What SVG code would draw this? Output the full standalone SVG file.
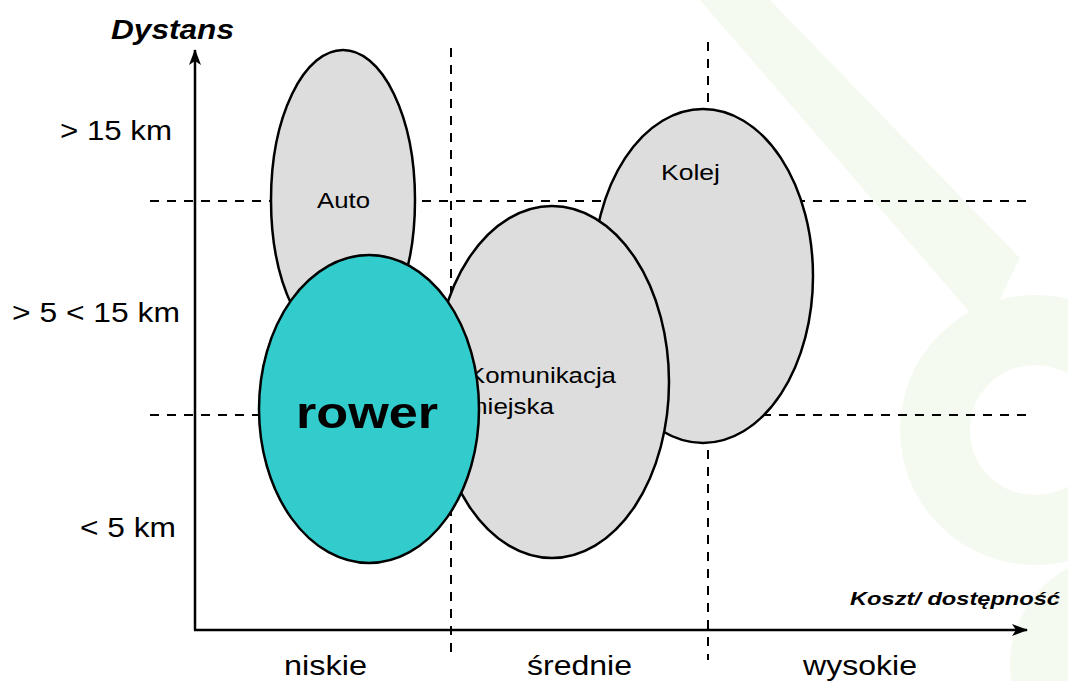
<svg xmlns="http://www.w3.org/2000/svg" width="1068" height="681" viewBox="0 0 1068 681">
<defs>
<marker id="arr" viewBox="0 0 16 12" refX="15" refY="6" markerWidth="16" markerHeight="12" markerUnits="userSpaceOnUse" orient="auto">
<path d="M0,0 L16,6 L0,12 L4,6 Z" fill="#000"/>
</marker>
<style>
.t{font-family:"Liberation Sans",Arial,sans-serif;fill:#000}
.bi{font-weight:bold;font-style:italic}
.b{font-weight:bold}
.dash{stroke:#000;stroke-width:2;stroke-dasharray:9 8;fill:none}
.axis{stroke:#000;stroke-width:2.5;fill:none}
.gray{fill:#dddddd;stroke:#000;stroke-width:2.5}
.cyan{fill:#33cccc;stroke:#000;stroke-width:2.5}
.wm{fill:#f5faf0}
</style>
</defs>
<rect width="1068" height="681" fill="#fff"/>
<g id="watermark">
<polygon class="wm" points="700,0 770,0 1020,258 985,330"/>
<circle cx="1035" cy="430" r="100" fill="none" stroke="#f5faf0" stroke-width="70"/>
<circle cx="1120" cy="665" r="110" class="wm"/>
</g>
<g id="grid">
<line class="dash" x1="150" y1="201" x2="1030" y2="201"/>
<line class="dash" x1="150" y1="415" x2="1030" y2="415"/>
<line class="dash" x1="451" y1="48" x2="451" y2="660"/>
<line class="dash" x1="708" y1="42" x2="708" y2="660"/>
</g>
<g id="connectors">
<line class="axis" x1="195" y1="630" x2="195" y2="50" marker-end="url(#arr)"/>
<line class="axis" x1="194" y1="630" x2="1027" y2="630" marker-end="url(#arr)"/>
</g>
<g id="auto">
<ellipse class="gray" cx="343" cy="200" rx="72" ry="150"/>
<text class="t" x="317" y="208" font-size="22" textLength="53" lengthAdjust="spacingAndGlyphs">Auto</text>
</g>
<g id="kolej">
<ellipse class="gray" cx="703" cy="276" rx="110" ry="167"/>
<text class="t" x="661" y="180" font-size="22" textLength="59" lengthAdjust="spacingAndGlyphs">Kolej</text>
</g>
<g id="komunikacja">
<ellipse class="gray" cx="552" cy="382" rx="117" ry="176"/>
<text class="t" x="468" y="383" font-size="22" textLength="148" lengthAdjust="spacingAndGlyphs">Komunikacja</text>
<text class="t" x="466" y="414" font-size="22" textLength="88" lengthAdjust="spacingAndGlyphs">miejska</text>
</g>
<g id="rower">
<ellipse class="cyan" cx="369" cy="409" rx="110" ry="154"/>
<text class="t b" x="296" y="428" font-size="45" textLength="142" lengthAdjust="spacingAndGlyphs">rower</text>
</g>
<g id="labels">
<text class="t bi" x="111" y="39" font-size="27" textLength="123" lengthAdjust="spacingAndGlyphs">Dystans</text>
<text class="t" x="60" y="140" font-size="28" textLength="112" lengthAdjust="spacingAndGlyphs">&gt; 15 km</text>
<text class="t" x="12" y="322" font-size="28" textLength="168" lengthAdjust="spacingAndGlyphs">&gt; 5 &lt; 15 km</text>
<text class="t" x="80" y="537" font-size="28" textLength="96" lengthAdjust="spacingAndGlyphs">&lt; 5 km</text>
<text class="t" x="284" y="675" font-size="28" textLength="83" lengthAdjust="spacingAndGlyphs">niskie</text>
<text class="t" x="527" y="675" font-size="28" textLength="105" lengthAdjust="spacingAndGlyphs">średnie</text>
<text class="t" x="803" y="675" font-size="28" textLength="114" lengthAdjust="spacingAndGlyphs">wysokie</text>
<text class="t bi" x="850" y="605" font-size="19" textLength="210" lengthAdjust="spacingAndGlyphs">Koszt/ dostępność</text>
</g>
</svg>
